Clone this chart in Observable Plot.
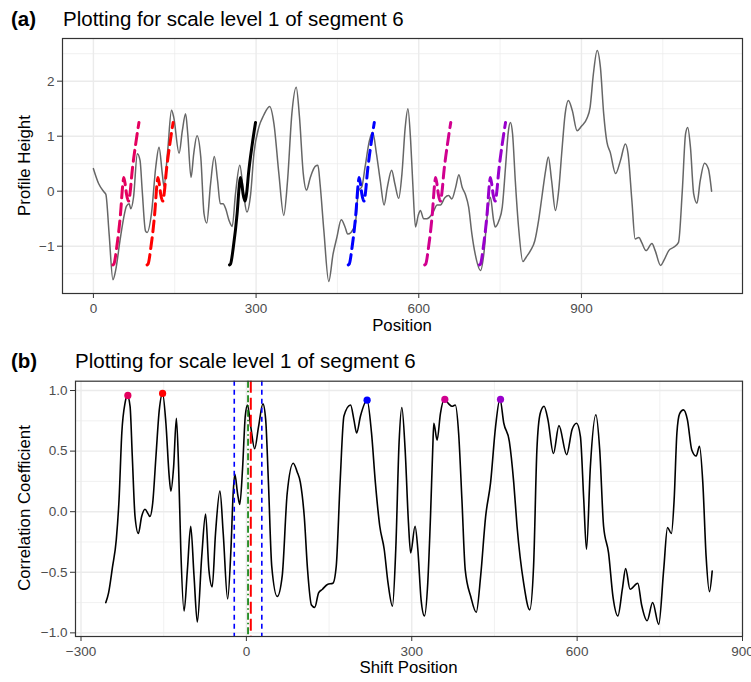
<!DOCTYPE html>
<html><head><meta charset="utf-8">
<script src="https://cdn.jsdelivr.net/npm/d3@7"></script>
<script src="https://cdn.jsdelivr.net/npm/@observablehq/plot@0.6"></script>
<style>
body{margin:0;background:#fff;}
#root{position:relative;width:751px;height:682px;font-family:"Liberation Sans",Arial,Helvetica,sans-serif;overflow:hidden;}
#root svg{position:absolute;left:0;}
#root g[aria-label$="axis tick"]{stroke:#333;}
#root g[aria-label$="tick label"]{fill:#4D4D4D;}
</style></head><body><div id="root"></div>
<script>
// ---- Panel (a): profile ----
const profileX = [0,10,20,23,29,36,41,49,55,61,66,69,74,81,86,90,96,99,107,115,121,127,130,137,144,148,158,164,170,174,180,185,191,198,204,209,216,223,229,234,239,244,250,256,262,270,277,283,290,296,305,314,325,333,342,351,358,366,374,380,387,393,400,409,414,418,425,434,442,449,457,464,469,475,483,489,495,501,509,515,522,529,536,542,550,556,563,569,575,580,585,589,594,599,603,609,615,625,634,640,648,655,661,668,674,680,686,692,698,704,714,720,726,732,738,741,748,754,760,765,769,773,778,784,792,798,806,814,821,827,834,839,845,852,858,864,870,876,883,892,900,910,916,922,929,935,941,947,953,963,972,981,986,993,999,1006,1011,1019,1030,1036,1046,1052,1061,1070,1079,1086,1092,1096,1101,1107,1113,1119,1127,1134,1140];
const profileY = [0.41,0.13,-0.02,-0.06,-0.78,-1.61,-1.44,-0.9,-0.53,-0.27,-0.23,-0.32,-0.11,0.68,0.56,0.01,-0.72,-0.75,-0.41,0.44,0.80,0.32,0.09,0.74,1.47,1.35,0.69,1.10,1.41,1.04,0.25,0.68,1.01,0.62,-0.41,-0.58,0.13,0.63,0.19,-0.23,-0.23,-0.32,-0.53,-0.64,-0.05,0.47,-0.05,-0.38,-0.05,0.68,1.16,1.38,1.54,1.22,0.32,-0.44,0.19,1.41,1.89,1.35,0.32,0.02,0.25,0.45,0.47,0.13,-0.72,-1.64,-1.14,-0.84,-0.52,-0.65,-0.78,-0.75,-0.59,0.01,0.08,0.44,0.92,1.07,0.68,0.19,-0.25,0.07,0.38,0.13,-0.13,0.32,1.16,1.50,0.92,0.13,-0.65,-0.44,-0.35,-0.5,-0.5,-0.41,-0.25,-0.25,-0.12,-0.08,-0.14,0.07,0.30,0.07,-0.06,-0.29,-0.78,-1.14,-1.44,-1.14,-0.47,-0.11,-0.53,-0.65,-0.53,-0.29,0.44,1.07,1.25,1.04,0.19,-0.65,-1.28,-1.2,-1.08,-0.9,-0.53,-0.11,0.38,0.62,0.19,-0.35,0.01,0.74,1.41,1.65,1.47,1.10,1.18,1.32,1.53,2.13,2.56,2.25,1.41,0.89,0.71,0.32,0.56,0.86,0.68,-0.17,-0.87,-0.84,-0.93,-1.08,-0.95,-1.08,-1.35,-1.26,-1.08,-1.02,-0.93,0.01,1.04,1.16,0.80,-0.05,-0.22,0.19,0.51,0.41,0.0];

// reference segment (black) and its best-match copies
const segmentX = [251,253,258,265,269,271,274,276,280,283,286,293,299];
const segmentY = [-1.34,-1.32,-1.02,-0.41,0.1,0.25,0.1,-0.05,-0.18,0.0,0.32,0.86,1.25];
const peakShifts = [-215,-152,219,360,461];
const peakCorr = [0.96,0.976,0.92,0.927,0.927];
const peakColors = ["#E4005E","#FF0000","#0000FF","#D1008F","#9900CC"];

// ---- Panel (b): correlation ----
const shiftX = [-255,-250,-243,-236,-231,-226,-220,-216,-211,-207,-202,-196,-190,-184,-178,-175,-170,-164,-158,-152,-146,-140,-137,-132,-127,-123,-119,-113,-107,-101,-95,-89,-81,-74,-68,-62,-56,-48,-42,-34,-28,-24,-21,-16,-12,-7,-2,2,8,15,22,30,35,40,46,56,65,74,85,92,98,105,111,118,124,131,138,147,157,163,170,177,189,195,200,207,219,227,234,242,250,257,265,271,277,282,288,294,298,306,311,317,323,329,334,338,340,346,352,359,367,373,379,385,391,397,407,417,425,434,443,452,460,467,477,485,491,503,514,521,527,533,540,547,557,567,581,591,599,606,612,617,624,634,641,648,657,665,674,682,688,696,710,717,727,737,748,757,764,771,776,781,786,793,800,808,816,822,828,834,840,845];
const corrY = [-0.75,-0.67,-0.46,-0.23,0.10,0.65,0.90,0.96,0.87,0.46,-0.04,-0.18,-0.04,0.02,-0.02,-0.04,0.07,0.46,0.84,0.976,0.73,0.29,0.17,0.37,0.77,0.37,-0.31,-0.82,-0.48,-0.12,-0.53,-0.91,-0.37,-0.02,-0.48,-0.62,-0.18,0.17,-0.18,-0.72,-0.31,0.15,0.31,0.15,0.06,0.35,0.79,0.88,0.70,0.52,0.70,0.89,0.76,0.24,-0.45,-0.70,-0.53,0.15,0.40,0.33,0.24,-0.04,-0.48,-0.77,-0.79,-0.67,-0.64,-0.60,-0.59,-0.45,0.24,0.79,0.88,0.76,0.65,0.79,0.92,0.65,0.24,-0.12,-0.31,-0.59,-0.78,-0.31,0.57,0.86,0.51,-0.09,-0.34,-0.12,-0.31,-0.73,-0.86,-0.59,-0.04,0.51,0.73,0.59,0.81,0.93,0.89,0.87,0.88,0.65,0.10,-0.48,-0.70,-0.83,-0.53,-0.04,0.24,0.70,0.93,0.73,0.58,0.24,-0.12,-0.59,-0.81,-0.45,0.51,0.81,0.87,0.76,0.48,0.71,0.47,0.68,0.73,0.62,0.10,-0.31,0.37,0.80,0.51,-0.12,-0.34,-0.70,-0.86,-0.64,-0.47,-0.64,-0.59,-0.77,-0.90,-0.75,-0.93,-0.48,-0.13,-0.18,0.10,0.65,0.81,0.84,0.76,0.51,0.46,0.54,0.24,-0.37,-0.66,-0.49];

const windowLines = [-22, 28];   // blue dashed
const centerLine = 3;            // green dot-dash
const bestLine = 8;              // red long-dash

// tick labels
const ticksAX = [0,300,600,900], ticksAY = [-1,0,1,2];
const minorAX = [150,450,750,1050], minorAY = [-1.5,-0.5,0.5,1.5,2.5];
const ticksBX = [-300,0,300,600,900], ticksBY = [-1,-0.5,0,0.5,1];
const minorBX = [-150,150,450,750], minorBY = [-0.75,-0.25,0.25,0.75];

const profile = profileX.map((x,i)=>({x, y: profileY[i]}));
const segment = segmentX.map((x,i)=>({x, y: segmentY[i]}));
const copies = peakShifts.flatMap((s,k)=>segmentX.map((x,i)=>({x: x+s, y: segmentY[i], k})));
const corr = shiftX.map((x,i)=>({x, y: corrY[i]}));
const peaks = peakShifts.map((x,i)=>({x, y: peakCorr[i], c: peakColors[i]}));

const GRID = "#EBEBEB";
const style = {fontFamily:'"Liberation Sans",Arial,sans-serif', fontSize:"13.5px", color:"#4D4D4D", background:"transparent", overflow:"visible"};
const fmtInt = d3.format("d"), fmt1 = d3.format(".1f");

const plotA = Plot.plot({
  width: 751, height: 340,
  marginLeft: 62, marginRight: 9, marginTop: 38, marginBottom: 47,
  x: {domain: [-57, 1197], label: null},
  y: {domain: [-1.86, 2.776], label: null},
  style,
  marks: [
    Plot.ruleX(minorAX, {stroke: GRID, strokeWidth: 0.7}),
    Plot.ruleY(minorAY, {stroke: GRID, strokeWidth: 0.7}),
    Plot.ruleX(ticksAX, {stroke: GRID, strokeWidth: 1.4}),
    Plot.ruleY(ticksAY, {stroke: GRID, strokeWidth: 1.4}),
    Plot.line(profile, {x: "x", y: "y", stroke: "#666666", strokeWidth: 1.5, curve: "monotone-x"}),
    Plot.line(segment, {x: "x", y: "y", stroke: "#000", strokeWidth: 3, curve: "monotone-x"}),
    Plot.line(copies, {x: "x", y: "y", z: "k", stroke: d => peakColors[d.k], strokeWidth: 3, strokeDasharray: "11,6", curve: "monotone-x"}),
    Plot.frame({stroke: "#333", strokeWidth: 1.2}),
    Plot.axisX({ticks: ticksAX, tickSize: 5, tickPadding: 5, tickFormat: fmtInt, label: null}),
    Plot.axisY({ticks: ticksAY, tickSize: 5, tickPadding: 3, tickFormat: fmtInt, label: null})
  ]
});

const plotB = Plot.plot({
  width: 751, height: 342,
  marginLeft: 75, marginRight: 9, marginTop: 40.7, marginBottom: 46,
  x: {domain: [-310, 900], label: null},
  y: {domain: [-1.03, 1.077], label: null},
  style,
  marks: [
    Plot.ruleX(minorBX, {stroke: GRID, strokeWidth: 0.7}),
    Plot.ruleY(minorBY, {stroke: GRID, strokeWidth: 0.7}),
    Plot.ruleX(ticksBX, {stroke: GRID, strokeWidth: 1.4}),
    Plot.ruleY(ticksBY, {stroke: GRID, strokeWidth: 1.4}),
    Plot.line(corr, {x: "x", y: "y", stroke: "#000", strokeWidth: 1.6, curve: "monotone-x"}),
    Plot.ruleX(windowLines, {stroke: "#0000FF", strokeWidth: 1.6, strokeDasharray: "5,4"}),
    Plot.ruleX([centerLine], {stroke: "#007A00", strokeWidth: 1.6, strokeDasharray: "7,3,1.5,3"}),
    Plot.ruleX([bestLine], {stroke: "#FF0000", strokeWidth: 2, strokeDasharray: "12,5"}),
    Plot.dot(peaks, {x: "x", y: "y", fill: "c", r: 3.6}),
    Plot.frame({stroke: "#333", strokeWidth: 1.2}),
    Plot.axisX({ticks: ticksBX, tickSize: 5, tickPadding: 5, tickFormat: fmtInt, label: null}),
    Plot.axisY({ticks: ticksBY, tickSize: 5, tickPadding: 3, tickFormat: fmt1, label: null})
  ]
});

const root = document.getElementById("root");
plotA.style.top = "0px";
plotB.style.top = "340px";
root.appendChild(plotA);
root.appendChild(plotB);

// text overlay
const ns = "http://www.w3.org/2000/svg";
const ov = document.createElementNS(ns, "svg");
ov.setAttribute("width", 751); ov.setAttribute("height", 682);
ov.style.top = "0px"; ov.style.pointerEvents = "none";
ov.style.fontFamily = '"Liberation Sans",Arial,sans-serif';
root.appendChild(ov);
function txt(s, x, y, o = {}) {
  const t = document.createElementNS(ns, "text");
  t.textContent = s;
  t.setAttribute("x", x); t.setAttribute("y", y);
  t.setAttribute("font-size", o.size || 16.8);
  t.setAttribute("fill", o.fill || "#000");
  if (o.bold) t.setAttribute("font-weight", "bold");
  if (o.anchor) t.setAttribute("text-anchor", o.anchor);
  if (o.rotate) t.setAttribute("transform", `rotate(-90,${x},${y})`);
  ov.appendChild(t);
}
txt("(a)", 11, 26, {size: 20.5, bold: true});
txt("Plotting for scale level 1 of segment 6", 63, 26, {size: 20.5});
txt("Position", 402, 331, {anchor: "middle"});
txt("Profile Height", 30, 165.5, {anchor: "middle", rotate: true});
txt("(b)", 11, 368, {size: 20.5, bold: true});
txt("Plotting for scale level 1 of segment 6", 75, 368, {size: 20.5});
txt("Shift Position", 408.5, 673, {anchor: "middle"});
txt("Correlation Coefficient", 30, 508, {anchor: "middle", rotate: true});
</script></body></html>
